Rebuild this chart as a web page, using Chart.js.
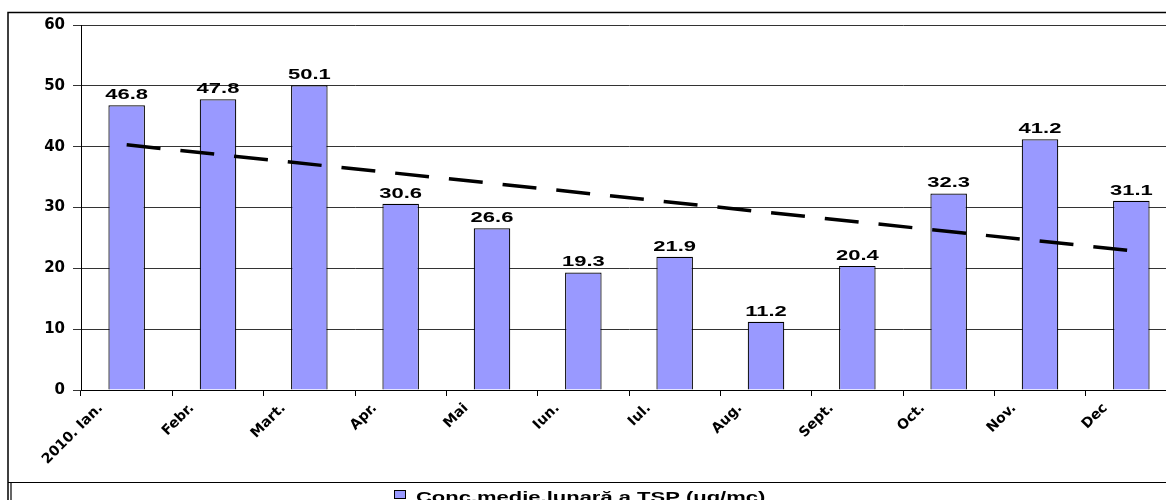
<!DOCTYPE html>
<html>
<head>
<meta charset="utf-8">
<script src="https://cdn.jsdelivr.net/npm/chart.js@4.4.1/dist/chart.umd.min.js"></script>
<style>
  html, body { margin: 0; padding: 0; background: #fff; overflow: hidden; }
  #wrap { width: 1200px; height: 500px; }
</style>
</head>
<body>
<div id="wrap"><canvas id="tspChart" width="1200" height="500"></canvas></div>
<script>
// months shown on the x axis
const months = ['2010. Ian.', 'Febr.', 'Mart.', 'Apr.', 'Mai', 'Iun.', 'Iul.', 'Aug.', 'Sept.', 'Oct.', 'Nov.', 'Dec'];
// monthly mean TSP concentration (ug/mc)
const tspValues = [46.8, 47.8, 50.1, 30.6, 26.6, 19.3, 21.9, 11.2, 20.4, 32.3, 41.2, 31.1];
// linear trend line, read at its two ends
const trendValues = [40.3, null, null, null, null, null, null, null, null, null, null, 22.9];
const yTicks = [0, 10, 20, 30, 40, 50, 60];
const legendText = 'Conc.medie.lunară a TSP (ug/mc)';

const STRETCH = 1.57; // the original picture is stretched sideways
const tickFont = 'DejaVu Sans, Arial, sans-serif';

// frame, value labels and the legend box
const framePlugin = {
  id: 'frame',
  beforeDraw(chart) {
    const ctx = chart.ctx;
    ctx.save();
    ctx.fillStyle = '#fff';
    ctx.fillRect(0, 0, chart.width, chart.height);
    ctx.strokeStyle = '#000';
    ctx.lineWidth = 1.5;
    ctx.strokeRect(8, 12.5, 1300, 600);
    ctx.lineWidth = 1.2;
    ctx.beginPath();
    ctx.moveTo(8, 482.5);
    ctx.lineTo(1300, 482.5);
    ctx.moveTo(11, 482.5);
    ctx.lineTo(11, 520);
    ctx.stroke();
    ctx.restore();
  },
  afterDatasetsDraw(chart) {
    const ctx = chart.ctx;
    const meta = chart.getDatasetMeta(0);
    ctx.save();
    ctx.fillStyle = '#000';
    ctx.font = 'bold 14px Arial, "Liberation Sans", sans-serif';
    ctx.textAlign = 'center';
    ctx.textBaseline = 'bottom';
    meta.data.forEach((bar, i) => {
      ctx.save();
      ctx.translate(bar.x, bar.y - 3);
      ctx.scale(STRETCH, 1);
      ctx.fillText(tspValues[i].toFixed(1), 0, 0);
      ctx.restore();
    });
    ctx.restore();
  },
  afterDraw(chart) {
    const ctx = chart.ctx;
    const ds = chart.data.datasets[0];
    ctx.save();
    ctx.fillStyle = ds.backgroundColor;
    ctx.strokeStyle = '#000';
    ctx.lineWidth = 1;
    ctx.fillRect(394, 490, 11, 8);
    ctx.strokeRect(394.5, 490.5, 11, 8);
    ctx.fillStyle = '#000';
    ctx.font = 'bold 14px Arial, "Liberation Sans", sans-serif';
    ctx.textBaseline = 'alphabetic';
    ctx.translate(416, 502);
    ctx.scale(STRETCH, 1);
    ctx.fillText(ds.label, 0, 0);
    ctx.restore();
  }
};

const ctx = document.getElementById('tspChart').getContext('2d');
const tspChart = new Chart(ctx, {
  type: 'bar',
  data: {
    labels: months,
    datasets: [
      {
        type: 'bar',
        label: legendText,
        data: tspValues,
        backgroundColor: '#9999ff',
        borderColor: '#000',
        borderWidth: 1.2,
        barPercentage: 0.4,
        categoryPercentage: 1.0,
        order: 1
      },
      {
        type: 'line',
        label: 'trend',
        data: trendValues,
        spanGaps: true,
        borderColor: '#000',
        borderWidth: 3.5,
        borderDash: [34, 20],
        pointRadius: 0,
        fill: false,
        order: 0
      }
    ]
  },
  options: {
    responsive: false,
    animation: false,
    layout: { padding: { left: 0, top: 25, right: 23, bottom: 0 } },
    plugins: {
      legend: { display: false },
      tooltip: { enabled: false }
    },
    scales: {
      x: {
        offset: true,
        grid: { offset: true, drawOnChartArea: false, color: '#000', tickLength: 6 },
        border: { color: '#000', width: 1 },
        ticks: {
          color: '#000',
          font: { family: tickFont, size: 14, weight: 'bold' },
          minRotation: 45,
          maxRotation: 45,
          autoSkip: false,
          labelOffset: -26,
          padding: 4
        },
        afterFit(scale) { scale.height = 110; }
      },
      y: {
        min: 0,
        max: 60,
        afterBuildTicks(scale) { scale.ticks = yTicks.map(v => ({ value: v })); },
        grid: { color: '#333', tickLength: 8 },
        border: { color: '#000', width: 1 },
        ticks: {
          color: '#000',
          font: { family: tickFont, size: 15, weight: 'bold' },
          padding: 8
        },
        afterFit(scale) { scale.width = 81; }
      }
    }
  },
  plugins: [framePlugin]
});
</script>
</body>
</html>
